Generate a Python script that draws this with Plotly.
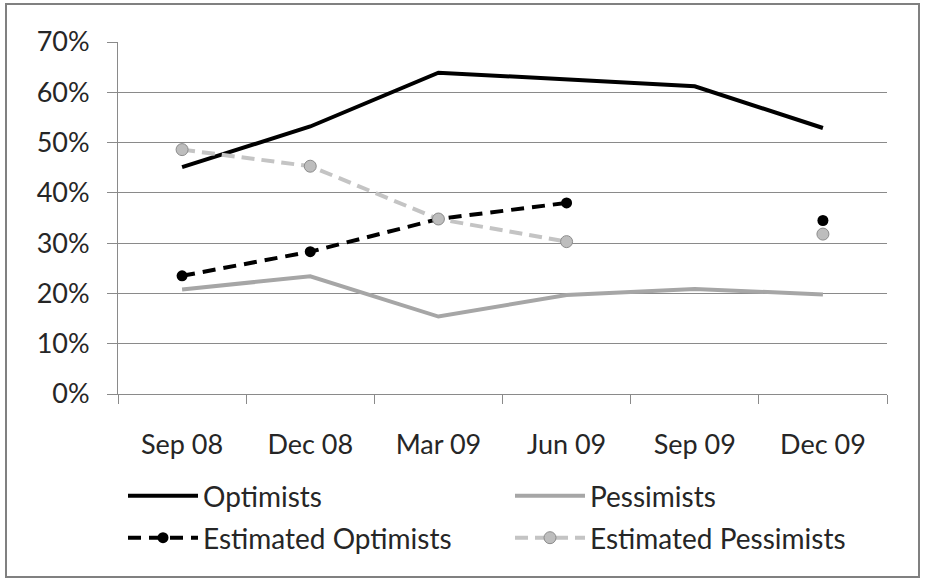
import plotly.graph_objects as go

# Quarterly survey shares
quarters = ["Sep 08", "Dec 08", "Mar 09", "Jun 09", "Sep 09", "Dec 09"]
optimists = [0.451, 0.532, 0.639, 0.626, 0.612, 0.529]
pessimists = [0.208, 0.234, 0.154, 0.197, 0.209, 0.198]
est_optimists = [0.235, 0.283, 0.348, 0.380, None, 0.345]
est_pessimists = [0.486, 0.453, 0.348, 0.303, None, 0.318]
y_ticks = [0, 0.1, 0.2, 0.3, 0.4, 0.5, 0.6, 0.7]

FONT = "Lato"
TEXT = "#262626"
GRID = "#8a8a8a"

W, H = 926, 582
ML, MR, MT, MB = 118, 39, 42, 188
PW, PH = W - ML - MR, H - MT - MB


def px_x(x):
    return (x - ML) / PW


def px_y(y):
    return (H - MB - y) / PH


fig = go.Figure()

fig.add_trace(go.Scatter(
    x=quarters, y=optimists, name="Optimists", mode="lines",
    line=dict(color="#000000", width=4),
    legend="legend",
))
fig.add_trace(go.Scatter(
    x=quarters, y=pessimists, name="Pessimists", mode="lines",
    line=dict(color="#a6a6a6", width=4),
    legend="legend2",
))
fig.add_trace(go.Scatter(
    x=quarters, y=est_optimists, name="Estimated Optimists", mode="lines+markers",
    connectgaps=False,
    line=dict(color="#000000", width=4, dash="13px,8px"),
    marker=dict(symbol="circle", size=11, color="#000000"),
    legend="legend3",
))
fig.add_trace(go.Scatter(
    x=quarters, y=est_pessimists, name="Estimated Pessimists", mode="lines+markers",
    connectgaps=False,
    line=dict(color="#c4c4c4", width=4, dash="13px,7px"),
    marker=dict(symbol="circle", size=12, color="#bdbdbd",
                line=dict(color="#8c8c8c", width=1)),
    legend="legend4",
))

# one legend box per entry, laid out as a 2 x 2 grid under the axis
legend_style = dict(
    orientation="h",
    xanchor="left", yanchor="top",
    itemwidth=70,
    font=dict(family=FONT, size=28, color=TEXT),
    bgcolor="rgba(0,0,0,0)",
)
COL1, COL2 = 123, 510
ROW1, ROW2 = 471, 513

fig.update_layout(
    width=W, height=H,
    margin=dict(l=ML, r=MR, t=MT, b=MB, autoexpand=False),
    paper_bgcolor="#ffffff",
    plot_bgcolor="#ffffff",
    font=dict(family=FONT, size=27, color=TEXT),
    showlegend=True,
    legend=dict(legend_style, x=px_x(COL1), y=px_y(ROW1)),
    legend2=dict(legend_style, x=px_x(COL2), y=px_y(ROW1)),
    legend3=dict(legend_style, x=px_x(COL1), y=px_y(ROW2)),
    legend4=dict(legend_style, x=px_x(COL2), y=px_y(ROW2)),
    xaxis=dict(
        type="category",
        categoryorder="array", categoryarray=quarters,
        range=[-0.5, len(quarters) - 0.5],
        showgrid=False,
        showline=True, linecolor=GRID, linewidth=1,
        ticks="outside", tickson="boundaries", ticklen=9, tickcolor=GRID,
        tickfont=dict(family=FONT, size=27, color=TEXT),
        ticklabelstandoff=27,
        zeroline=False,
    ),
    yaxis=dict(
        range=[0, 0.7],
        tickvals=y_ticks,
        tickformat=".0%",
        showgrid=True, gridcolor=GRID, gridwidth=1,
        showline=True, linecolor=GRID, linewidth=1,
        ticks="outside", ticklen=10, tickcolor=GRID,
        tickfont=dict(family=FONT, size=27, color=TEXT),
        ticklabelstandoff=12,
        zeroline=False,
    ),
    shapes=[dict(
        type="rect", xref="paper", yref="paper",
        x0=px_x(6), x1=px_x(919), y0=px_y(577), y1=px_y(4),
        line=dict(color="#808080", width=2),
        fillcolor="rgba(0,0,0,0)",
        layer="below",
    )],
)

fig.write_html("out.html")
